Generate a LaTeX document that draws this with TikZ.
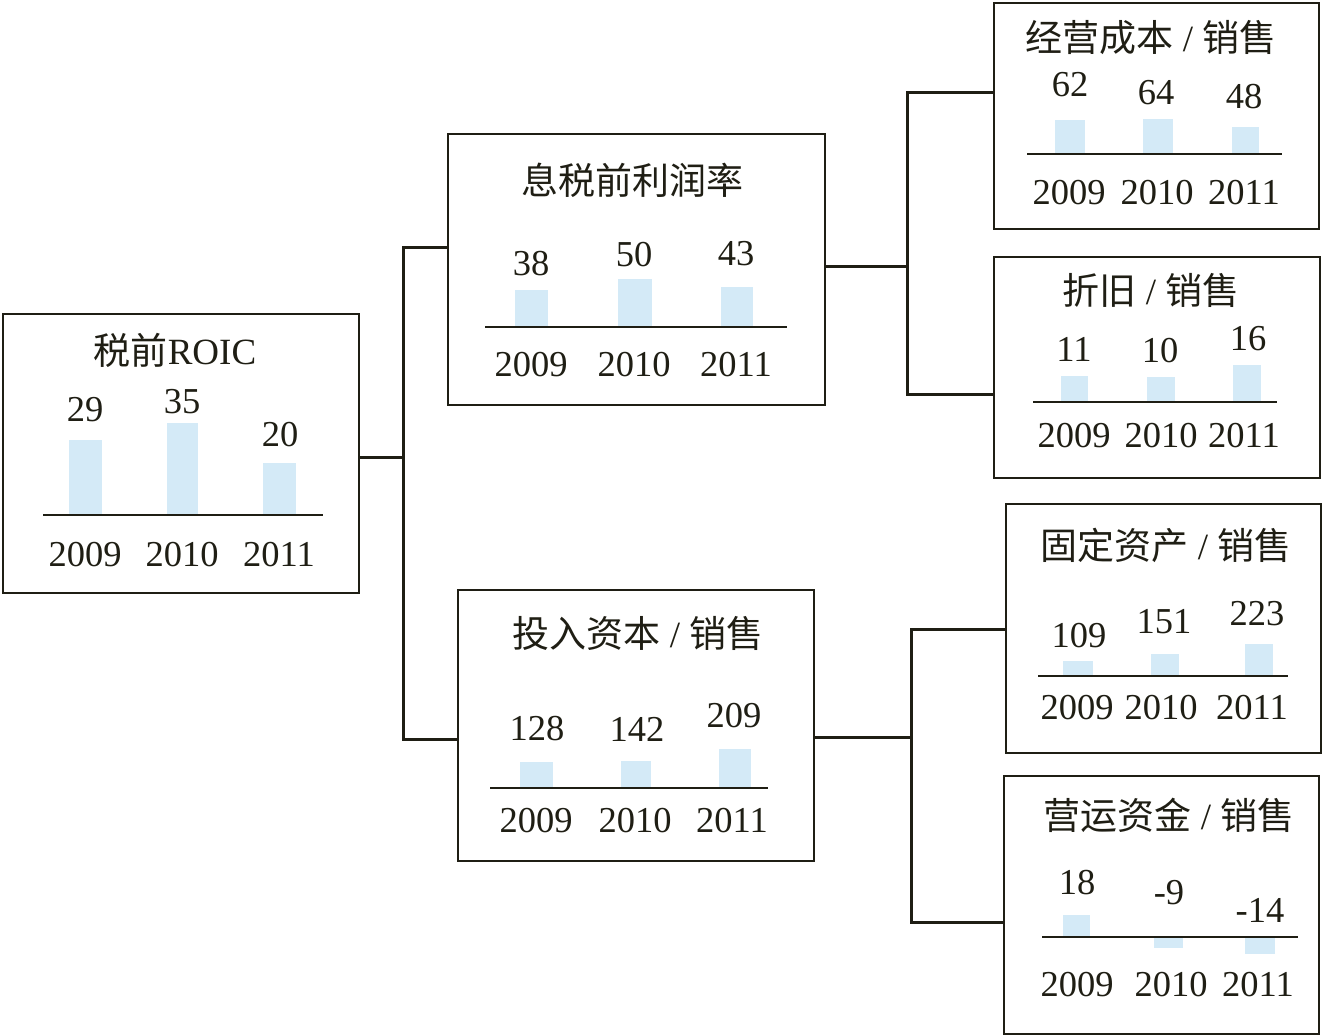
\documentclass[tikz,border=0pt]{standalone}
\usepackage{fontspec}
\setmainfont{Liberation Serif}
\newfontfamily\cjk{Noto Sans CJK SC}
\definecolor{ink}{HTML}{1F1E14}
\definecolor{barblue}{HTML}{D4EAF7}
\tikzset{
  box/.style={draw=ink, line width=2pt, rectangle, inner sep=0pt, anchor=north west},
  conn/.style={draw=ink, line width=3pt},
  axis/.style={draw=ink, line width=2pt},
  bar/.style={fill=barblue},
  num/.style={inner sep=0pt, text=ink, font=\fontsize{36.5}{40}\selectfont},
  ttl/.style={inner sep=0pt, text=ink, font=\fontsize{37}{42}\selectfont},
}
\begin{document}
\begin{tikzpicture}[x=1pt,y=-1pt]
\useasboundingbox[fill=white] (0,0) rectangle (1322,1035);

% ---------- boxes ----------
\node[box, minimum width=356pt, minimum height=279pt] (A) at (2,313) {};
\node[box, minimum width=377pt, minimum height=271pt] (B) at (447,133) {};
\node[box, minimum width=356pt, minimum height=271pt] (C) at (457,589) {};
\node[box, minimum width=325pt, minimum height=226pt] (D) at (993,2) {};
\node[box, minimum width=326pt, minimum height=221pt] (E) at (993,256) {};
\node[box, minimum width=315pt, minimum height=249pt] (F) at (1005,503) {};
\node[box, minimum width=315pt, minimum height=258pt] (G) at (1003,775) {};

% ---------- connectors ----------
\coordinate (jA) at (403,457);
\coordinate (jAt) at (403,247);
\coordinate (jAb) at (403,739);
\draw[conn] (A.east |- jA) -- (jA);
\draw[conn] (jAt -| B.west) -- (jAt) -- (jAb) -- (jAb -| C.west);

\coordinate (jB) at (907,266);
\coordinate (jBt) at (907,93);
\coordinate (jBb) at (907,394);
\draw[conn] (B.east |- jB) -- (jB);
\draw[conn] (jBt -| D.west) -- (jBt) -- (jBb) -- (jBb -| E.west);

\coordinate (jC) at (911,737);
\coordinate (jCt) at (911,629);
\coordinate (jCb) at (911,922);
\draw[conn] (C.east |- jC) -- (jC);
\draw[conn] (jCt -| F.west) -- (jCt) -- (jCb) -- (jCb -| G.west);

% ---------- box A: 税前ROIC ----------
\node[ttl] (At) at (175,350) {{\cjk 税前}ROIC};
\fill[bar] (69,440) rectangle (102,515);
\fill[bar] (167,423) rectangle (198,515);
\fill[bar] (263,463) rectangle (296,515);
\draw[axis] (43,515) -- (323,515);
\node[num] (Av1) at (85,410) {29};
\node[num] (Av2) at (182,402) {35};
\node[num] (Av3) at (280,435) {20};
\node[num] (Ay1) at (85,555) {2009};
\node[num] (Ay2) at (182,555) {2010};
\node[num] (Ay3) at (279,555) {2011};

% ---------- box B: 息税前利润率 ----------
\node[ttl] (Bt) at (632,180) {\cjk 息税前利润率};
\fill[bar] (515,290) rectangle (548,327);
\fill[bar] (618,279) rectangle (652,327);
\fill[bar] (721,287) rectangle (753,327);
\draw[axis] (485,327) -- (787,327);
\node[num] (Bv1) at (531,264) {38};
\node[num] (Bv2) at (634,255) {50};
\node[num] (Bv3) at (736,254) {43};
\node[num] (By1) at (531,365) {2009};
\node[num] (By2) at (634,365) {2010};
\node[num] (By3) at (736,365) {2011};

% ---------- box C: 投入资本 / 销售 ----------
\node[ttl] (Ct) at (638,633) {{\cjk 投入资本} / {\cjk 销售}};
\fill[bar] (520,762) rectangle (553,788);
\fill[bar] (621,761) rectangle (651,788);
\fill[bar] (719,749) rectangle (751,788);
\draw[axis] (490,788) -- (768,788);
\node[num] (Cv1) at (537,729) {128};
\node[num] (Cv2) at (637,729) {142};
\node[num] (Cv3) at (734,716) {209};
\node[num] (Cy1) at (536,821) {2009};
\node[num] (Cy2) at (635,821) {2010};
\node[num] (Cy3) at (732,821) {2011};

% ---------- box D: 经营成本 / 销售 ----------
\node[ttl] (Dt) at (1151,38) {{\cjk 经营成本} / {\cjk 销售}};
\fill[bar] (1055,120) rectangle (1085,154);
\fill[bar] (1143,119) rectangle (1173,154);
\fill[bar] (1232,127) rectangle (1259,154);
\draw[axis] (1027,154) -- (1282,154);
\node[num] (Dv1) at (1070,85) {62};
\node[num] (Dv2) at (1156,93) {64};
\node[num] (Dv3) at (1244,97) {48};
\node[num] (Dy1) at (1069,193) {2009};
\node[num] (Dy2) at (1157,193) {2010};
\node[num] (Dy3) at (1244,193) {2011};

% ---------- box E: 折旧 / 销售 ----------
\node[ttl] (Et) at (1151,290) {{\cjk 折旧} / {\cjk 销售}};
\fill[bar] (1061,376) rectangle (1088,402);
\fill[bar] (1147,377) rectangle (1175,402);
\fill[bar] (1233,365) rectangle (1261,402);
\draw[axis] (1033,402) -- (1277,402);
\node[num] (Ev1) at (1074,349) {11};
\node[num] (Ev2) at (1160,351) {10};
\node[num] (Ev3) at (1248,339) {16};
\node[num] (Ey1) at (1074,436) {2009};
\node[num] (Ey2) at (1161,436) {2010};
\node[num] (Ey3) at (1244,436) {2011};

% ---------- box F: 固定资产 / 销售 ----------
\node[ttl] (Ft) at (1166,545) {{\cjk 固定资产} / {\cjk 销售}};
\fill[bar] (1063,661) rectangle (1093,676);
\fill[bar] (1151,654) rectangle (1179,676);
\fill[bar] (1245,644) rectangle (1273,676);
\draw[axis] (1038,676) -- (1288,676);
\node[num] (Fv1) at (1079,636) {109};
\node[num] (Fv2) at (1164,622) {151};
\node[num] (Fv3) at (1257,614) {223};
\node[num] (Fy1) at (1077,708) {2009};
\node[num] (Fy2) at (1161,708) {2010};
\node[num] (Fy3) at (1252,708) {2011};

% ---------- box G: 营运资金 / 销售 ----------
\node[ttl] (Gt) at (1169,815) {{\cjk 营运资金} / {\cjk 销售}};
\fill[bar] (1063,915) rectangle (1090,937);
\fill[bar] (1154,937) rectangle (1183,948);
\fill[bar] (1245,937) rectangle (1275,954);
\draw[axis] (1042,937) -- (1298,937);
\node[num] (Gv1) at (1077,883) {18};
\node[num] (Gv2) at (1169,893) {-9};
\node[num] (Gv3) at (1260,910) {-14};
\node[num] (Gy1) at (1077,985) {2009};
\node[num] (Gy2) at (1171,985) {2010};
\node[num] (Gy3) at (1258,985) {2011};
\end{tikzpicture}
\end{document}
